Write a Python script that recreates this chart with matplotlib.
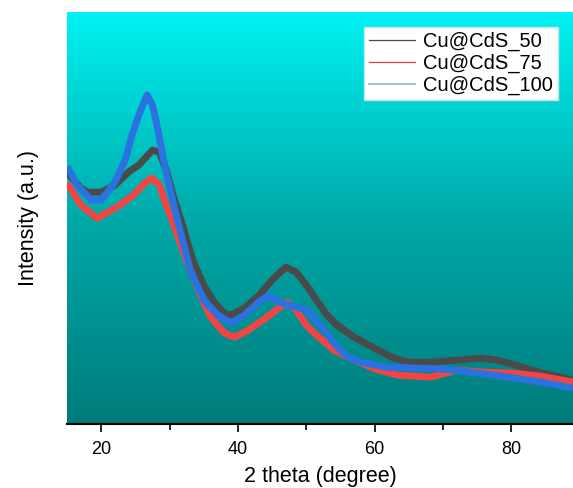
import numpy as np
import matplotlib
matplotlib.use('Agg')
from matplotlib import pyplot as plt
from matplotlib.colors import LinearSegmentedColormap
from matplotlib.lines import Line2D

plt.rcParams['font.family'] = ['Liberation Sans', 'DejaVu Sans']

# 2 theta (degree) / intensity (a.u.)
x_50 = [15, 17, 18, 20, 22, 24, 25.5, 27.5, 28.5, 29.5, 30.5, 32, 33.5, 35, 36.5, 38, 39,
        41, 43, 45, 47, 48.5, 50, 51.5, 53, 54.5, 57, 60, 62.8, 65, 68, 72, 75.5, 78, 80, 84, 89]
y_50 = [61.2, 57.3, 56.3, 56.3, 58.0, 61.2, 62.9, 66.5, 66.0, 61.7, 55.6, 47.6, 39.3, 33.7, 29.6,
        26.9, 26.5, 28.2, 31.1, 35.0, 38.1, 36.9, 33.7, 30.1, 26.5, 24.0, 21.1, 18.4, 16.0, 15.0,
        15.0, 15.5, 16.0, 15.5, 14.6, 12.6, 10.7]

x_75 = [15, 17, 19.4, 21, 22.5, 24.7, 26.5, 27.4, 28.5, 29.5, 30.5, 32.6, 34.5, 36, 38, 39.5,
        41.5, 44, 46, 47.2, 48.5, 50, 51.5, 54, 56, 60, 63.3, 68.2, 72, 76, 80, 84, 89]
y_75 = [58.5, 53.2, 50.0, 51.5, 52.9, 55.6, 58.7, 59.7, 58.0, 53.2, 48.8, 39.1, 31.3, 26.0, 22.1,
        21.1, 22.8, 25.7, 28.2, 29.6, 27.7, 24.0, 21.6, 18.0, 16.3, 13.4, 11.9, 11.4, 13.1, 12.6,
        12.4, 11.7, 10.2]

x_100 = [15, 16.5, 18.5, 20, 22, 23.5, 24.5, 25.5, 26.7, 27.5, 28.3, 29.4, 30.8, 33, 35, 37, 39,
         41, 43, 44.5, 46, 48, 50, 52, 54, 56, 58, 61.8, 66, 70.6, 74, 80.3, 85, 89]
y_100 = [62.6, 58.0, 54.4, 54.4, 58.7, 64.1, 70.1, 75.0, 79.9, 77.4, 71.4, 61.7, 51.9, 37.4, 30.1,
         26.5, 24.5, 26.5, 29.6, 31.3, 29.6, 28.6, 27.7, 24.0, 19.7, 16.3, 15.0, 13.8, 13.6, 13.3,
         12.6, 11.2, 10.0, 8.7]

fig = plt.figure(figsize=(5.73, 4.88), dpi=100)
ax = fig.add_axes([0.117, 0.131, 0.883, 0.844])

# gradient background, cyan on top to teal at the bottom
bg = LinearSegmentedColormap.from_list('bg', ['#007b7b', '#00a9a9', '#00f3f3'])
grad = np.linspace(0, 1, 256).reshape(-1, 1)
ax.imshow(grad, cmap=bg, origin='lower', aspect='auto', extent=[15, 89, 0, 100], zorder=0)

ax.plot(x_50, y_50, color='#4a4a4a', lw=5, solid_capstyle='butt', zorder=2)
ax.plot(x_75, y_75, color='#f04545', lw=5, solid_capstyle='butt', zorder=3)
ax.plot(x_100, y_100, color='#2a72e0', lw=5, solid_capstyle='butt', zorder=4)

ax.set_xlim(15, 89)
ax.set_ylim(0, 100)
ax.set_xticks([20, 40, 60, 80])
ax.set_xticks([30, 50, 70], minor=True)
ax.set_yticks([])
ax.tick_params(axis='x', which='major', direction='out', length=6, width=1.2, labelsize=13, pad=6)
ax.tick_params(axis='x', which='minor', direction='out', length=4, width=1.2)
for s in ['left', 'top', 'right']:
    ax.spines[s].set_visible(False)
ax.spines['bottom'].set_linewidth(1.5)

ax.set_xlabel('2 theta (degree)', fontsize=15.5, labelpad=6)
ax.set_ylabel('Intensity (a.u.)', fontsize=15.5, labelpad=20)

handles = [Line2D([], [], color='#4a4a4a', lw=0.9),
           Line2D([], [], color='#e04040', lw=0.9),
           Line2D([], [], color='#8fb4dc', lw=1.2)]
leg = ax.legend(handles, ['Cu@CdS_50', 'Cu@CdS_75', 'Cu@CdS_100'], loc='upper right',
                bbox_to_anchor=(0.978, 0.975), fontsize=14.5, frameon=True, fancybox=False,
                framealpha=1, edgecolor='#c0e8f0', handlelength=2.3, handletextpad=0.4,
                labelspacing=0.15, borderpad=0.25, borderaxespad=0.2)
leg.get_frame().set_linewidth(1.0)

fig.savefig('out.png', dpi=100)
